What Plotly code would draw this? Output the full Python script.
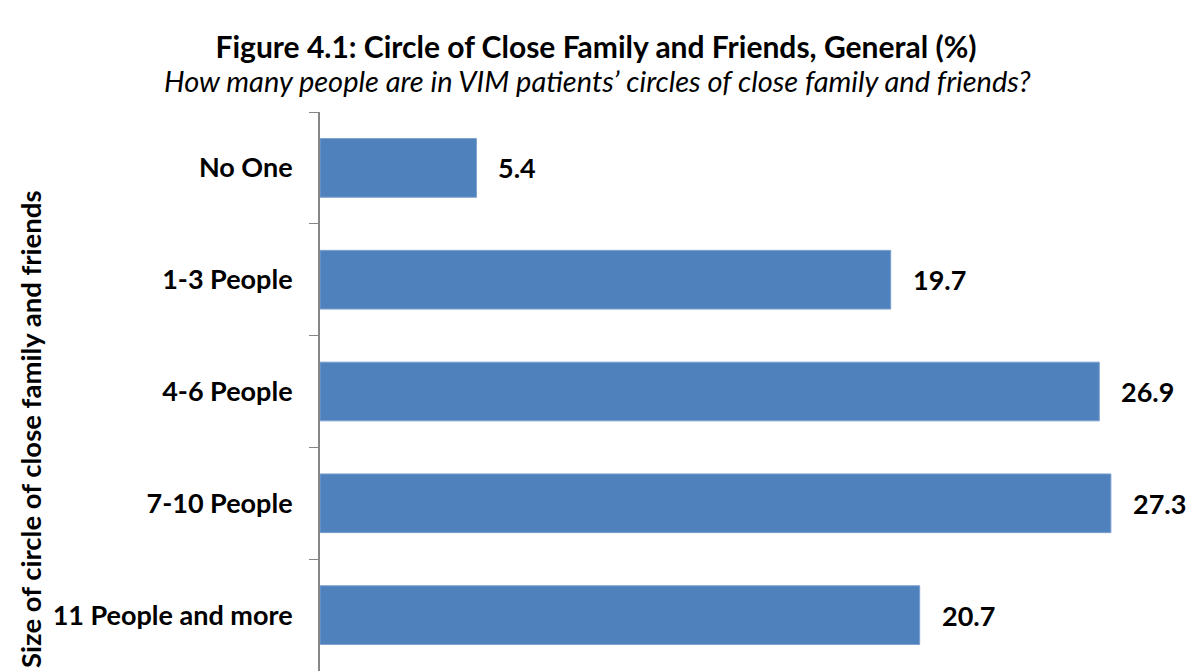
import plotly.graph_objects as go

# Share of VIM patients by size of their circle of close family and friends (%)
categories = ["No One", "1-3 People", "4-6 People", "7-10 People", "11 People and more"]
values = [5.4, 19.7, 26.9, 27.3, 20.7]

title_text = "Figure 4.1: Circle of Close Family and Friends, General (%)"
subtitle_text = "How many people are in VIM patients\u2019 circles of close family and friends?"
axis_title = "Size of circle of close family and friends"

FONT = "Lato"
W, H = 1192, 671
ML, MT = 320, 112

fig = go.Figure()
fig.add_trace(go.Bar(
    x=values,
    y=categories,
    orientation="h",
    marker=dict(color="#4F81BD", line=dict(color="#7DA0CF", width=1)),
    hoverinfo="x+y",
))

# value labels placed to the right of each bar
for c, v in zip(categories, values):
    fig.add_annotation(
        x=v, y=c, xref="x", yref="y",
        text=f"<b>{v:.1f}</b>", showarrow=False,
        xanchor="left", xshift=20,
        font=dict(family=FONT, size=27, color="black"),
    )

plot_w = W - ML
plot_h = H - MT

fig.add_annotation(
    x=(597 - ML) / plot_w, y=(H - 80) / plot_h, xref="paper", yref="paper",
    text=f"<i>{subtitle_text}</i>", showarrow=False,
    xanchor="center", yanchor="middle",
    font=dict(family=FONT, size=29, color="black"),
)
fig.add_annotation(
    x=(30 - ML) / plot_w, y=(H - 429) / plot_h, xref="paper", yref="paper",
    text=f"<b>{axis_title}</b>", showarrow=False, textangle=-90,
    xanchor="center", yanchor="middle",
    font=dict(family=FONT, size=27.5, color="black"),
)

fig.update_layout(
    width=W, height=H,
    margin=dict(l=ML, r=0, t=MT, b=0),
    paper_bgcolor="white", plot_bgcolor="white",
    showlegend=False,
    bargap=0.475,
    title=dict(
        text=f"<b>{title_text}</b>", xref="container", x=0.5, xanchor="center",
        yref="container", y=1 - 47 / H, yanchor="middle",
        font=dict(family=FONT, size=30, color="black"),
    ),
    xaxis=dict(range=[0, plot_w / 28.97], visible=False, fixedrange=True),
    yaxis=dict(
        categoryorder="array", categoryarray=categories, autorange="reversed",
        showline=True, linecolor="#868686", linewidth=2,
        ticks="outside", tickson="boundaries", ticklen=9, tickcolor="#868686", tickwidth=1,
        ticklabelstandoff=20,
        tickfont=dict(family=FONT, size=27, color="black", weight="bold"),
        showgrid=False, zeroline=False,
    ),
)

fig.write_html("out.html")
